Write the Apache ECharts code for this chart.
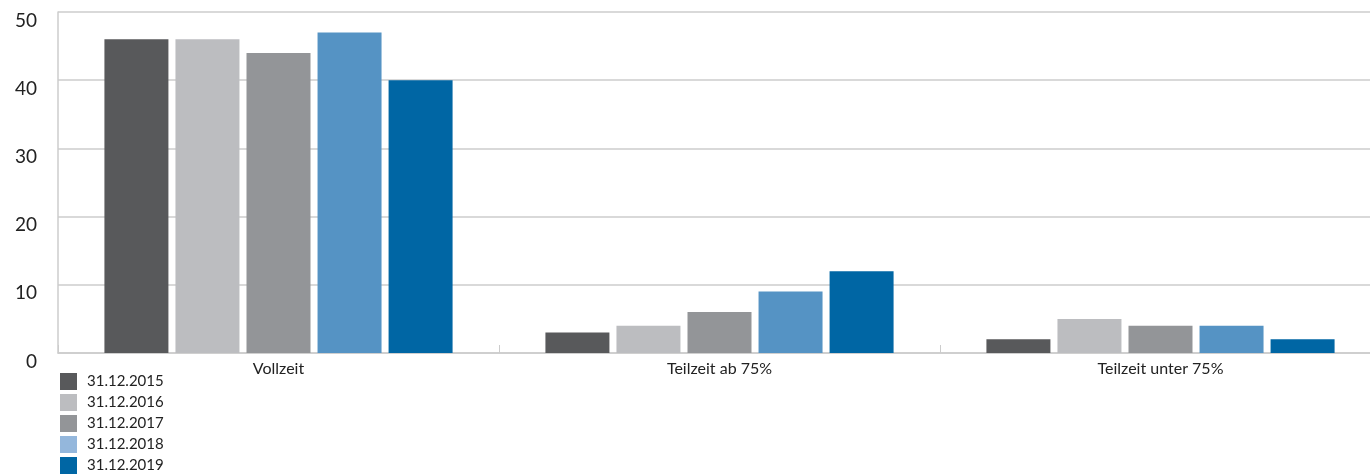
<!DOCTYPE html>
<html>
<head>
<meta charset="utf-8">
<script src="https://cdn.jsdelivr.net/npm/echarts@6/dist/echarts.min.js"></script>
<style>
  html, body { margin: 0; padding: 0; background: #fff; }
  #chart { width: 1370px; height: 475px; }
</style>
</head>
<body>
<div id="chart"></div>
<script>
// Beschäftigungsumfang nach Stichtag
const categories = ['Vollzeit', 'Teilzeit ab 75%', 'Teilzeit unter 75%'];
const years = ['31.12.2015', '31.12.2016', '31.12.2017', '31.12.2018', '31.12.2019'];
const v2015 = [46, 3, 2];
const v2016 = [46, 4, 5];
const v2017 = [44, 6, 4];
const v2018 = [47, 9, 4];
const v2019 = [40, 12, 2];
const yTicks = [0, 10, 20, 30, 40, 50];

const barColors = ['#58595b', '#bcbdc0', '#939598', '#5593c4', '#0066a4'];
const legendColors = ['#58595b', '#bcbdc0', '#939598', '#94b7dc', '#0066a4'];
const values = [v2015, v2016, v2017, v2018, v2019];

const chart = echarts.init(document.getElementById('chart'), null, { renderer: 'canvas' });

const font = 'Lato, "Noto Sans", sans-serif';

chart.setOption({
  animation: false,
  textStyle: { fontFamily: font },
  // plot area runs a little past the right edge of the canvas
  grid: { left: 58, width: 1323, top: 12, bottom: 122, outerBoundsMode: 'none' },
  legend: {
    orient: 'vertical',
    left: 55,
    top: 368,
    height: 110,
    padding: 5,
    itemWidth: 17,
    itemHeight: 17,
    itemGap: 4,
    icon: 'rect',
    textStyle: { fontSize: 15, color: '#222', fontFamily: font, padding: [0, 0, 0, 5] },
    data: years.map((y, i) => ({ name: y, itemStyle: { color: legendColors[i] } }))
  },
  xAxis: {
    type: 'category',
    data: categories,
    axisLine: { show: true, lineStyle: { color: '#cccccc', width: 1.5 } },
    axisTick: { show: true, inside: true, length: 8, lineStyle: { color: '#cccccc' } },
    axisLabel: { fontSize: 16, color: '#222', margin: 8 },
    splitLine: { show: false }
  },
  yAxis: {
    type: 'value',
    min: 0,
    max: 50,
    interval: 10,
    axisLine: { show: true, lineStyle: { color: '#cccccc', width: 1.5 } },
    axisTick: { show: false },
    axisLabel: {
      fontSize: 19,
      color: '#222',
      margin: 21,
      verticalAlign: 'top',
      lineHeight: 17,
      formatter: (v) => (yTicks.includes(v) ? String(v) : '')
    },
    splitLine: { show: true, lineStyle: { color: '#cccccc', width: 1.5 } }
  },
  series: years.map((y, i) => ({
    name: y,
    type: 'bar',
    data: values[i],
    barWidth: 64,
    barGap: '11%',
    itemStyle: { color: barColors[i] }
  }))
});
</script>
</body>
</html>
